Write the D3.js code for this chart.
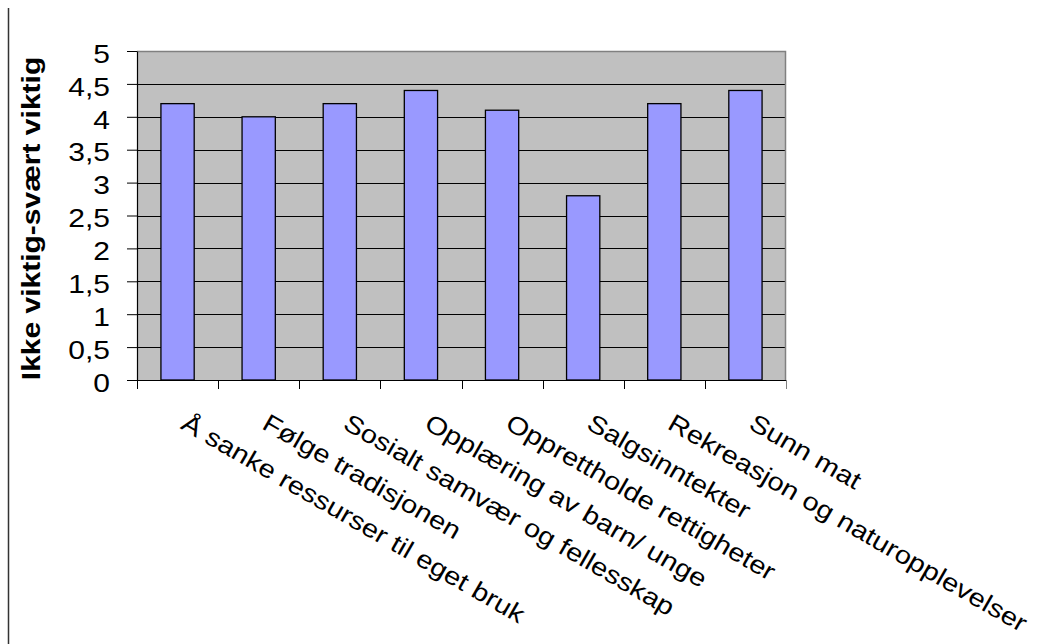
<!DOCTYPE html>
<html>
<head>
<meta charset="utf-8">
<script src="https://cdn.jsdelivr.net/npm/d3@7/dist/d3.min.js"></script>
<style>
  html, body { margin: 0; padding: 0; background: #fff; }
  svg { display: block; font-family: "Liberation Sans", Arial, sans-serif; }
</style>
</head>
<body>
<svg id="chart" width="1049" height="644"></svg>
<script>
// Mean importance per reason (scale 1-5)
const categories = [
  "Å sanke ressurser til eget bruk",
  "Følge tradisjonen",
  "Sosialt samvær og fellesskap",
  "Opplæring av barn/ unge",
  "Opprettholde rettigheter",
  "Salgsinntekter",
  "Rekreasjon og naturopplevelser",
  "Sunn mat"
];
const values = [4.2, 4.0, 4.2, 4.4, 4.1, 2.8, 4.2, 4.4];
const yTicks = [0, 0.5, 1, 1.5, 2, 2.5, 3, 3.5, 4, 4.5, 5];
const yTitle = "Ikke viktig-svært viktig";

const svg = d3.select("#chart");
const plot = { left: 137, right: 786, top: 51, bottom: 380 };
const stretch = 1.2;       // horizontal widening of the typeface
const labelStretch = 1.16; // same, for the slanted category labels

const x = d3.scaleBand().domain(categories).range([plot.left, plot.right]).padding(0);
const y = d3.scaleLinear().domain([0, 5]).range([plot.bottom, plot.top]);
const bw = x.bandwidth();
const comma = d => String(d).replace(".", ",");

// outer frame line on the left
svg.append("line")
  .attr("x1", 8.5).attr("x2", 8.5).attr("y1", 8).attr("y2", 644)
  .attr("stroke", "#333").attr("stroke-width", 1.5);

// plot background
svg.append("rect")
  .attr("x", plot.left).attr("y", plot.top)
  .attr("width", plot.right - plot.left).attr("height", plot.bottom - plot.top)
  .attr("fill", "#C0C0C0");

// horizontal gridlines
svg.append("g").selectAll("line")
  .data(yTicks.filter(t => t > 0 && t < 5))
  .join("line")
  .attr("x1", plot.left).attr("x2", plot.right)
  .attr("y1", d => Math.round(y(d)) + 0.5).attr("y2", d => Math.round(y(d)) + 0.5)
  .attr("stroke", "#000").attr("stroke-width", 1);

// plot border (top and right)
svg.append("path")
  .attr("d", `M${plot.left},${plot.top + 0.5}H${plot.right - 0.5}V${plot.bottom}`)
  .attr("fill", "none").attr("stroke", "#808080").attr("stroke-width", 1.5);

// bars
svg.append("g").selectAll("rect")
  .data(values)
  .join("rect")
  .attr("x", (d, i) => x(categories[i]) + bw * 0.295)
  .attr("width", bw * 0.41)
  .attr("y", d => y(d))
  .attr("height", d => y(0) - y(d))
  .attr("fill", "#9999FF")
  .attr("stroke", "#000")
  .attr("stroke-width", 1.3);

// y axis
const yAxis = svg.append("g")
  .attr("transform", `translate(${plot.left},0)`)
  .call(d3.axisLeft(y).tickValues(yTicks).tickFormat(comma).tickSize(10).tickSizeOuter(0));
yAxis.select(".domain").attr("stroke", "#000").attr("stroke-width", 1.2);
yAxis.selectAll(".tick line").attr("stroke", "#000");
yAxis.selectAll(".tick text")
  .attr("x", 0).attr("dy", "0.45em")
  .attr("text-anchor", "end")
  .attr("transform", `translate(-27,0) scale(${stretch},1)`)
  .attr("font-size", 25)
  .attr("font-family", "Liberation Sans, Arial, sans-serif")
  .attr("fill", "#000");

// x axis line and boundary ticks
const bounds = d3.range(categories.length + 1).map(i => plot.left + i * x.step());
svg.append("line")
  .attr("x1", plot.left - 10).attr("x2", plot.right)
  .attr("y1", plot.bottom + 0.5).attr("y2", plot.bottom + 0.5)
  .attr("stroke", "#000").attr("stroke-width", 1.2);
svg.append("g").selectAll("line")
  .data(bounds)
  .join("line")
  .attr("x1", d => Math.round(d) + 0.5).attr("x2", d => Math.round(d) + 0.5)
  .attr("y1", plot.bottom).attr("y2", plot.bottom + 9)
  .attr("stroke", (d, i) => i === bounds.length - 1 ? "#808080" : "#000");

// slanted category labels
svg.append("g").selectAll("text")
  .data(categories)
  .join("text")
  .attr("transform", d => `translate(${x(d) + bw / 2 + 2},428) rotate(30) scale(${labelStretch},1)`)
  .attr("font-size", 25)
  .attr("fill", "#000")
  .text(d => d);

// y axis title
svg.append("text")
  .attr("transform", `translate(40,218.5) rotate(-90) scale(${stretch},1)`)
  .attr("text-anchor", "middle")
  .attr("font-size", 25)
  .attr("font-weight", "bold")
  .attr("fill", "#000")
  .text(yTitle);
</script>
</body>
</html>
